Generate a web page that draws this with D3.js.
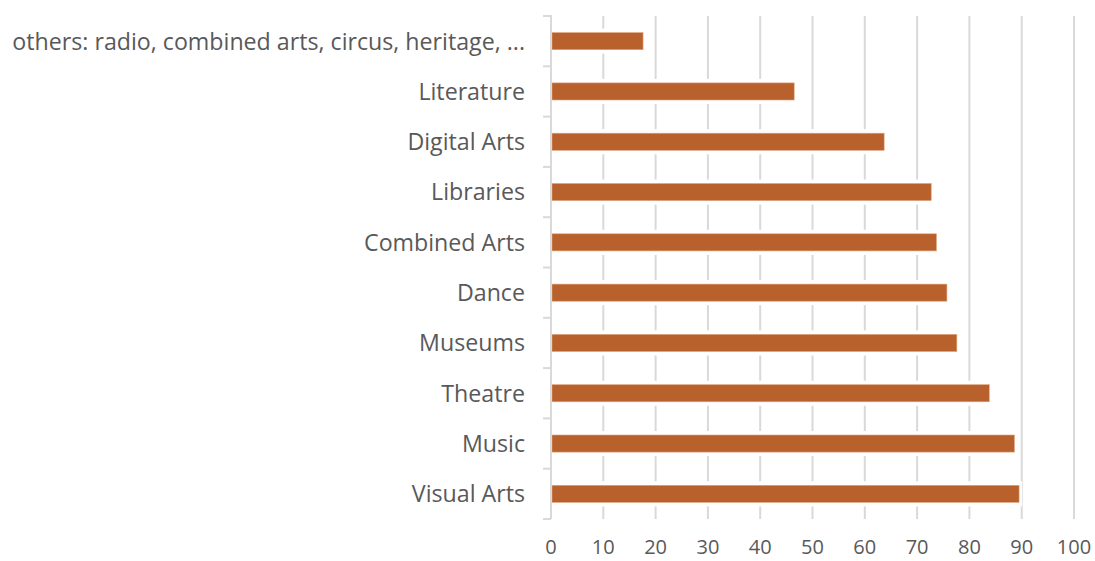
<!DOCTYPE html>
<html>
<head>
<meta charset="utf-8">
<script src="https://cdn.jsdelivr.net/npm/d3@7"></script>
<style>
  body { margin: 0; background: #fff; }
  svg { display: block; }
  .cat { font-family: "Open Sans", sans-serif; font-size: 23.2px; fill: #595959; }
  .tick-x { font-family: "Open Sans", sans-serif; font-size: 20px; fill: #595959; }
</style>
</head>
<body>
<svg id="chart" width="1095" height="561"></svg>
<script>
const categories = [
  "others: radio, combined arts, circus, heritage, ...",
  "Literature", "Digital Arts", "Libraries", "Combined Arts",
  "Dance", "Museums", "Theatre", "Music", "Visual Arts"
];
const values = [17.6, 46.5, 63.7, 72.7, 73.7, 75.7, 77.6, 83.8, 88.6, 89.5];
const xTicks = [0, 10, 20, 30, 40, 50, 60, 70, 80, 90, 100];

const svg = d3.select("#chart");

const x = d3.scaleLinear().domain([0, 100]).range([551, 1074]);
const y = d3.scaleBand().domain(categories).range([16, 519])
  .paddingInner(0.66).paddingOuter(0.33);

// gridlines
svg.append("g").selectAll("line").data(xTicks.slice(1)).join("line")
  .attr("x1", d => x(d)).attr("x2", d => x(d))
  .attr("y1", 16).attr("y2", 519)
  .attr("stroke", "#d9d9d9").attr("stroke-width", 2);

// white halo behind bars (gaps in gridlines)
svg.append("g").selectAll("rect").data(values).join("rect")
  .attr("x", x(0)).attr("y", (d, i) => y(categories[i]) - 4)
  .attr("width", d => x(d) - x(0) + 3).attr("height", y.bandwidth() + 8)
  .attr("fill", "#fff");

// bars
svg.append("g").selectAll("rect").data(values).join("rect")
  .attr("x", x(0) + 1).attr("y", (d, i) => y(categories[i]))
  .attr("width", d => x(d) - x(0) - 1).attr("height", y.bandwidth())
  .attr("fill", "#b9612d").attr("stroke", "#e0a27c").attr("stroke-width", 0.6);

// y axis line + ticks
const yEdge = i => y.range()[0] + (y.range()[1] - y.range()[0]) * i / categories.length;
svg.append("line").attr("x1", 551).attr("x2", 551).attr("y1", 15).attr("y2", 519)
  .attr("stroke", "#d9d9d9").attr("stroke-width", 2);
svg.append("g").selectAll("line").data(d3.range(categories.length + 1)).join("line")
  .attr("x1", 543).attr("x2", 551)
  .attr("y1", yEdge).attr("y2", yEdge)
  .attr("stroke", "#d9d9d9").attr("stroke-width", 2);

// category labels
svg.append("g").selectAll("text").data(categories).join("text")
  .attr("class", "cat")
  .attr("x", 525).attr("y", d => y(d) + y.bandwidth() / 2)
  .attr("dy", "0.36em").attr("text-anchor", "end")
  .text(d => d);

// x tick labels
svg.append("g").selectAll("text").data(xTicks).join("text")
  .attr("class", "tick-x")
  .attr("x", d => x(d)).attr("y", 554)
  .attr("text-anchor", "middle")
  .text(d => d);
</script>
</body>
</html>
